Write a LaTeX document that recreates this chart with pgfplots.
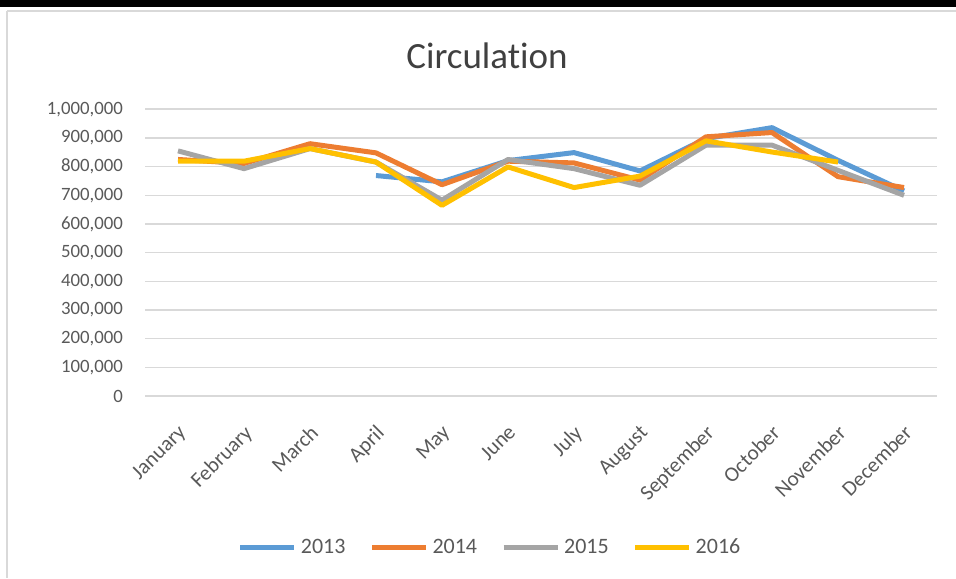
\documentclass[border=0pt]{standalone}
\usepackage{pgfplots}
\pgfplotsset{compat=1.18}
\usepackage{fontspec}
\setmainfont[Ligatures={NoCommon}]{Carlito}

\definecolor{c2013}{HTML}{5B9BD5}
\definecolor{c2014}{HTML}{ED7D31}
\definecolor{c2015}{HTML}{A5A5A5}
\definecolor{c2016}{HTML}{FFC000}
\definecolor{labelgray}{HTML}{595959}
\definecolor{titlegray}{HTML}{404040}
\definecolor{gridgray}{HTML}{D9D9D9}

\begin{document}
\begin{tikzpicture}[x=1pt,y=1pt]
\useasboundingbox (0,0) rectangle (478,289);
% window frame
\fill[black] (0,285.5) rectangle (478,289);
\draw[gray!30, line width=1pt] (3.5,283.5) -- (478,283.5);
\draw[gray!30, line width=1pt] (3.5,283.5) -- (3.5,0);
\node[font=\fontsize{18.5}{22}\selectfont, text=titlegray] at (243.5,261) {Circulation};

\begin{axis}[
    at={(72.5pt,91pt)}, anchor=south west,
    scale only axis,
    width=396pt,
    height=143.35pt,
    xmin=-0.5, xmax=11.5,
    ymin=0, ymax=1000000,
    xtick={0,...,11},
    xticklabels={January,February,March,April,May,June,July,August,September,October,November,December},
    ytick={0,100000,...,1000000},
    scaled y ticks=false,
    /pgf/number format/.cd, fixed, 1000 sep={,}, assume math mode=true,
    /pgfplots/.cd,
    axis line style={draw=none},
    major tick length=0pt,
    ymajorgrids,
    grid style={draw=gridgray, line width=0.8pt},
    yticklabel style={font=\fontsize{9.4}{11}\selectfont, text=labelgray, xshift=-7.5pt},
    xticklabel style={font=\fontsize{10.6}{12}\selectfont, text=labelgray,
        xshift=-0.5pt, yshift=-9pt, rotate=45, anchor=north east},
    legend style={at={(0.437,-0.530)}, anchor=center, draw=none, fill=none,
        legend columns=4, font=\fontsize{11}{13}\selectfont, text=labelgray,
        /tikz/every even column/.append style={column sep=10pt}},
    legend image code/.code={\draw[#1, line width=2.5pt] (0pt,0pt) -- (27pt,0pt);},
    every axis plot/.append style={line width=2.5pt, mark=none, line join=round},
]
\addplot[color=c2013] coordinates {
    (3,769000) (4,747000) (5,821000) (6,849000) (7,785000) (8,898000)
    (9,936000) (10,822000) (11,715000)
};
\addlegendentry{2013}
\addplot[color=c2014] coordinates {
    (0,825000) (1,811000) (2,880000) (3,848000) (4,737000) (5,819000)
    (6,813000) (7,753000) (8,904000) (9,919000) (10,765000) (11,727000)
};
\addlegendentry{2014}
\addplot[color=c2015] coordinates {
    (0,855000) (1,793000) (2,863000) (3,816000) (4,683000) (5,825000)
    (6,793000) (7,735000) (8,875000) (9,875000) (10,787000) (11,700000)
};
\addlegendentry{2015}
\addplot[color=c2016] coordinates {
    (0,819000) (1,819000) (2,863000) (3,816000) (4,665000) (5,799000)
    (6,727000) (7,767000) (8,890000) (9,851000) (10,816000)
};
\addlegendentry{2016}
\end{axis}
\end{tikzpicture}
\end{document}
